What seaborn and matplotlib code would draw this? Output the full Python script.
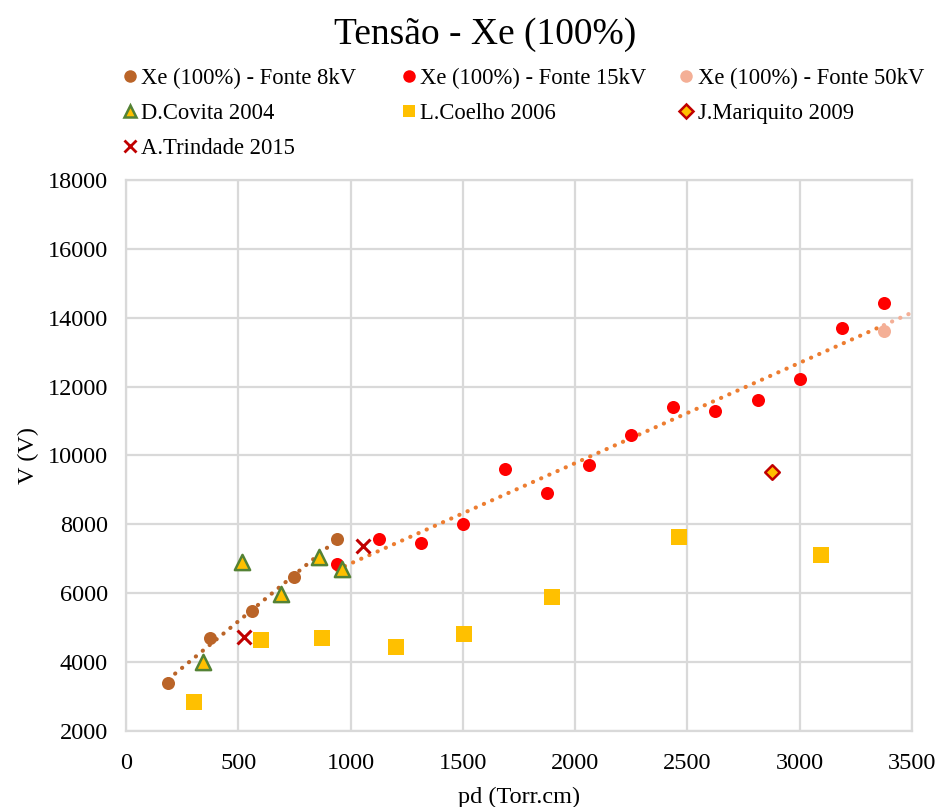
import numpy as np
import pandas as pd
import seaborn as sns
import matplotlib.pyplot as plt
from matplotlib.lines import Line2D

# Breakdown voltage of pure xenon versus pd
pd_8kv = [188, 375, 563, 750, 938]
v_8kv = [3400, 4700, 5470, 6470, 7580]

pd_15kv = [938, 1125, 1313, 1500, 1688, 1875, 2063, 2250, 2438, 2625, 2813, 3000, 3188, 3375]
v_15kv = [6850, 7570, 7460, 8020, 9620, 8900, 9720, 10600, 11420, 11300, 11620, 12220, 13700, 14420]

pd_50kv = [3375]
v_50kv = [13620]

pd_covita = [344, 518, 689, 859, 960]
v_covita = [4000, 6920, 5990, 7050, 6700]

pd_coelho = [303, 603, 873, 1204, 1504, 1896, 2464, 3096]
v_coelho = [2850, 4640, 4700, 4450, 4810, 5880, 7630, 7120]

pd_mariquito = [2878]
v_mariquito = [9520]

pd_trindade = [527, 1055]
v_trindade = [4720, 7360]

labels = [
    "Xe (100%) - Fonte 8kV", "Xe (100%) - Fonte 15kV", "Xe (100%) - Fonte 50kV",
    "D.Covita 2004", "L.Coelho 2006", "J.Mariquito 2009", "A.Trindade 2015",
]

sns.set_theme(style="white")
plt.rcParams['font.family'] = ['Liberation Serif', 'DejaVu Serif']
plt.rcParams['text.color'] = 'black'
plt.rcParams['axes.labelcolor'] = 'black'

BROWN = "#BA6428"
RED = "#FF0000"
SALMON = "#F4AF96"
GOLD = "#FFC000"
GREEN = "#548235"
DARKRED = "#C00000"
ORANGE = "#ED7D31"
GRID = "#D9D9D9"

fig = plt.figure(figsize=(9.44, 8.07), dpi=100)
ax = fig.add_axes([0.1335, 0.0942, 0.8325, 0.6828])

styles = [
    (pd_8kv, v_8kv, dict(marker="o", color=BROWN, s=88, edgecolor=BROWN, linewidth=0)),
    (pd_15kv, v_15kv, dict(marker="o", color=RED, s=88, edgecolor=RED, linewidth=0)),
    (pd_50kv, v_50kv, dict(marker="o", color=SALMON, s=88, edgecolor=SALMON, linewidth=0)),
    (pd_covita, v_covita, dict(marker="^", color=GOLD, s=120, edgecolor=GREEN, linewidth=1.8)),
    (pd_coelho, v_coelho, dict(marker="s", color=GOLD, s=118, edgecolor=GOLD, linewidth=0)),
    (pd_mariquito, v_mariquito, dict(marker="D", color=GOLD, s=55, edgecolor=DARKRED, linewidth=1.8)),
    (pd_trindade, v_trindade, dict(marker="x", color=DARKRED, s=100, linewidth=2.2)),
]

# Linear trend lines
dot = dict(linestyle=(0, (0.05, 2.1)), linewidth=3.0, dash_capstyle="round", zorder=2)
k8, b8 = np.polyfit(pd_8kv, v_8kv, 1)
xs8 = np.array([pd_8kv[0], pd_8kv[-1]])
ax.plot(xs8, k8 * xs8 + b8, color=BROWN, **dot)

k15, b15 = np.polyfit(pd_15kv + pd_50kv, v_15kv + v_50kv, 1)
xs15 = np.array([pd_15kv[0], pd_15kv[-1]])
ax.plot(xs15, k15 * xs15 + b15, color=ORANGE, **dot)
xs50 = np.array([pd_15kv[-1], 3500])
ax.plot(xs50, k15 * xs50 + b15, color=SALMON, **dot)

for (x, y, kw), lab in zip(styles, labels):
    sns.scatterplot(x=x, y=y, ax=ax, zorder=3, legend=False, **kw)

ax.set_xlim(0, 3500)
ax.set_ylim(2000, 18000)
ax.set_xticks(np.arange(0, 3501, 500))
ax.set_yticks(np.arange(2000, 18001, 2000))
ax.grid(True, color=GRID, linewidth=1.6)
ax.set_axisbelow(True)
for sp in ax.spines.values():
    sp.set_color(GRID)
    sp.set_linewidth(1.6)
ax.tick_params(axis="y", which="both", length=0, labelsize=17.5, colors="black", pad=13)
ax.tick_params(axis="x", which="both", length=0, labelsize=17.5, colors="black", pad=16)
ax.set_xlabel("pd (Torr.cm)", fontsize=17.5, labelpad=9, color="black")
ax.set_ylabel("V (V)", fontsize=17.5, labelpad=6, color="black")

fig.suptitle("Tensão - Xe (100%)", fontsize=27, x=0.514, y=0.979, color="black")

# Legend laid out in three columns, filled row by row
handles = []
for (x, y, kw), lab in zip(styles, labels):
    m = kw["marker"]
    h = Line2D([], [], linestyle="none", marker=m, markersize=9 if m != "D" else 7,
               markerfacecolor=kw["color"] if m != "x" else "none",
               markeredgecolor=kw.get("edgecolor", kw["color"]) if m != "x" else kw["color"],
               markeredgewidth=kw.get("linewidth", 0) if m != "x" else 2.0,
               color=kw["color"], label=lab)
    handles.append(h)

cols = [[0, 3, 6], [1, 4], [2, 5]]
xpos = [0.130, 0.426, 0.720]
for c, xp in zip(cols, xpos):
    leg = fig.legend(handles=[handles[i] for i in c], loc="upper left", bbox_to_anchor=(xp, 0.916),
                     frameon=False, fontsize=16.3, handlelength=0.6, handletextpad=0.2,
                     labelspacing=0.62, borderpad=0, borderaxespad=0)
    for t in leg.get_texts():
        t.set_color("black")

fig.savefig("out.png", dpi=100)
